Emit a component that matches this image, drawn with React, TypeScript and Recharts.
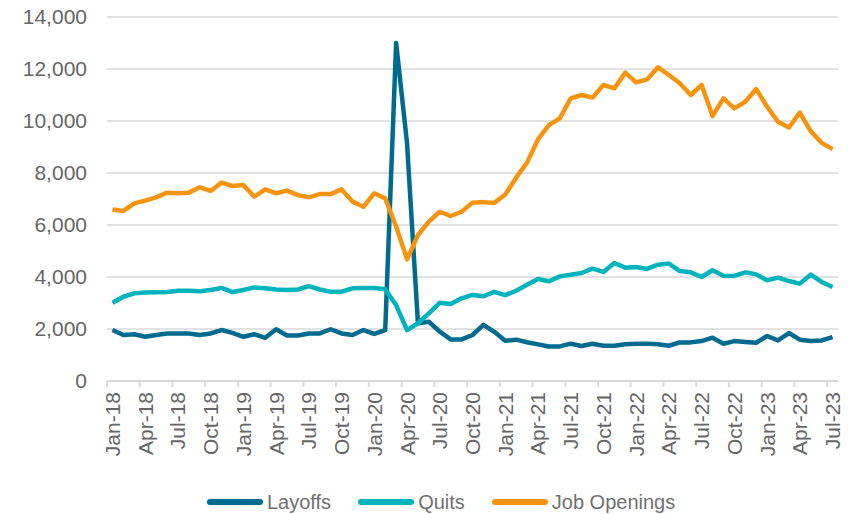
import React from "react";
import { LineChart, Line, XAxis, YAxis, CartesianGrid, Legend } from "recharts";

const monthNames = ["Jan", "Feb", "Mar", "Apr", "May", "Jun", "Jul", "Aug", "Sep", "Oct", "Nov", "Dec"];
const years = ["18", "19", "20", "21", "22", "23"];
const monthsInLastYear = 7;

const layoffs = [
  1960, 1770, 1800, 1700, 1770, 1830, 1830, 1830, 1770, 1830, 1960, 1850,
  1700, 1800, 1660, 1990, 1750, 1750, 1830, 1830, 1990, 1830, 1770, 1960,
  1810, 1960, 13000, 9140, 2220, 2280, 1900, 1600, 1600, 1770, 2160, 1890,
  1550, 1590, 1490, 1410, 1330, 1330, 1435, 1345, 1435, 1355, 1355, 1410,
  1435, 1435, 1410, 1355, 1485, 1485, 1535, 1665, 1435, 1535, 1500, 1470,
  1730, 1560, 1845, 1590, 1535, 1560, 1690,
];

const quits = [
  3010, 3240, 3370, 3400, 3410, 3420, 3470, 3470, 3450, 3500, 3580, 3420,
  3500, 3600, 3570, 3520, 3500, 3520, 3650, 3520, 3430, 3435, 3565, 3575,
  3575, 3525, 2920, 1960, 2220, 2600, 3010, 2960, 3180, 3310, 3260, 3430,
  3300, 3470, 3700, 3925, 3835, 4025, 4090, 4155, 4320, 4195, 4540, 4360,
  4385, 4310, 4475, 4515, 4230, 4180, 4000, 4260, 4050, 4040, 4180, 4100,
  3870, 3975, 3845, 3745, 4090, 3810, 3615,
];

const jobOpenings = [
  6600, 6540, 6830, 6935, 7065, 7245, 7220, 7245, 7450, 7310, 7630, 7500,
  7540, 7090, 7370, 7220, 7320, 7150, 7065, 7190, 7190, 7370, 6900, 6700,
  7220, 7025, 5940, 4680, 5615, 6130, 6510, 6345, 6510, 6860, 6880, 6850,
  7170, 7820, 8400, 9290, 9840, 10100, 10870, 11000, 10900, 11385, 11255, 11860,
  11485, 11600, 12065, 11770, 11450, 11000, 11385, 10190, 10870, 10485, 10740, 11230,
  10550, 9970, 9750, 10320, 9610, 9160, 8920,
];

const yTicks = [0, 2000, 4000, 6000, 8000, 10000, 12000, 14000];

const labels: string[] = [];
years.forEach((y, i) => {
  const n = i === years.length - 1 ? monthsInLastYear : 12;
  for (let m = 0; m < n; m++) labels.push(`${monthNames[m]}-${y}`);
});

const data = labels.map((month, i) => ({
  month,
  layoffs: layoffs[i],
  quits: quits[i],
  jobOpenings: jobOpenings[i],
}));

const W = 848;
const H = 514;
const PLOT_LEFT = 107;
const PLOT_RIGHT = 838;
const HALF_BAND = (PLOT_RIGHT - PLOT_LEFT) / labels.length / 2;

const GRID = "#d9d9d9";
const TEXT = "#666666";
const FONT = "'Liberation Sans', Arial, Helvetica, sans-serif";

const series = [
  { key: "layoffs", name: "Layoffs", color: "#006b8f" },
  { key: "quits", name: "Quits", color: "#00b3bc" },
  { key: "jobOpenings", name: "Job Openings", color: "#f7940f" },
];

// Excel-style category axis: tick marks sit between categories, labels at centres
const MonthTick = (props: any) => {
  const { x, y, payload } = props;
  return (
    <g>
      <line x1={x - HALF_BAND} x2={x - HALF_BAND} y1={y} y2={y + 6} stroke={GRID} strokeWidth={2} />
      <text
        x={0}
        y={0}
        transform={`translate(${x + 7.5},${y + 11}) rotate(-90)`}
        textAnchor="end"
        fill={TEXT}
        fontSize={21}
        fontFamily={FONT}
      >
        {payload.value}
      </text>
    </g>
  );
};

const LegendContent = () => (
  <div
    style={{
      display: "flex",
      alignItems: "center",
      height: 22,
      fontFamily: FONT,
      fontSize: 20,
      color: "#707070",
    }}
  >
    {series.map((s) => (
      <div key={s.key} style={{ display: "flex", alignItems: "center", marginRight: 27 }}>
        <span
          style={{
            display: "inline-block",
            width: 56,
            height: 6,
            borderRadius: 3,
            background: s.color,
            marginRight: 4,
          }}
        />
        <span>{s.name}</span>
      </div>
    ))}
  </div>
);

export default function App() {
  return (
    <div style={{ position: "absolute", left: 0, top: 0, width: W, height: H, background: "#fff" }}>
      <LineChart
        width={W}
        height={H}
        data={data}
        margin={{ top: 17, right: W - PLOT_RIGHT, left: 0, bottom: 3 }}
      >
        <CartesianGrid stroke={GRID} strokeWidth={1.5} vertical={false} />
        <XAxis
          dataKey="month"
          interval={2}
          height={108}
          padding={{ left: HALF_BAND, right: HALF_BAND }}
          axisLine={{ stroke: GRID, strokeWidth: 2 }}
          tickLine={false}
          tickSize={0}
          tickMargin={0}
          tick={<MonthTick />}
        />
        <YAxis
          width={PLOT_LEFT}
          domain={[0, 14000]}
          ticks={yTicks}
          axisLine={false}
          tickLine={false}
          tickSize={0}
          tickMargin={20}
          tickFormatter={(v: number) => v.toLocaleString("en-US")}
          tick={{ fill: TEXT, fontSize: 21, fontFamily: FONT }}
        />
        <Legend
          verticalAlign="bottom"
          content={<LegendContent />}
          wrapperStyle={{ left: 207, top: 491, width: "auto" }}
        />
        {series.map((s) => (
          <Line
            key={s.key}
            type="linear"
            dataKey={s.key}
            name={s.name}
            stroke={s.color}
            strokeWidth={4.5}
            strokeLinejoin="round"
            dot={false}
            activeDot={false}
            isAnimationActive={false}
          />
        ))}
      </LineChart>
    </div>
  );
}
